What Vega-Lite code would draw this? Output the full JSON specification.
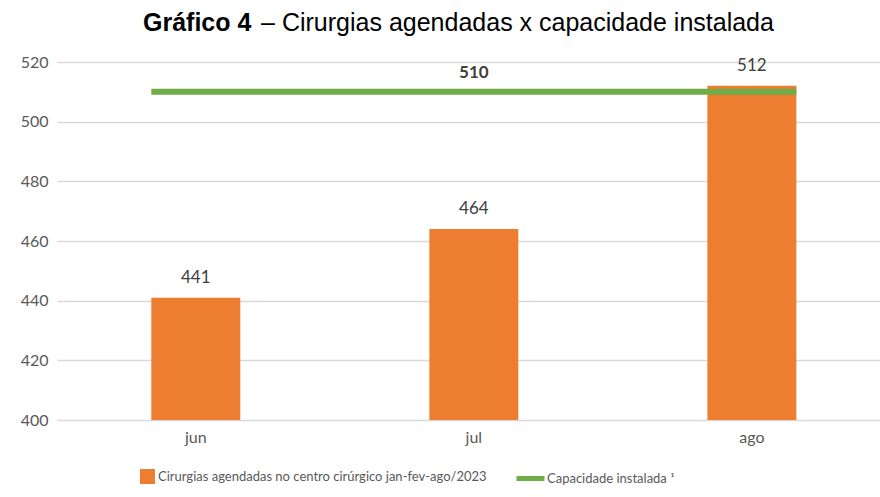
{
  "$schema": "https://vega.github.io/schema/vega-lite/v6.json",
  "width": 823,
  "height": 358,
  "autosize": {"type": "none"},
  "padding": {"left": 57, "top": 62, "right": 0, "bottom": 77},
  "background": "white",
  "config": {
    "view": {"stroke": null},
    "font": "Lato",
    "axis": {"labelFont": "Lato", "labelColor": "#595959", "labelFontSize": 16}
  },
  "title": {
    "text": "Gráfico 4",
    "subtitle": "\u200b\u00a0\u00a0\u00a0\u00a0\u00a0\u00a0\u00a0\u00a0\u00a0\u00a0\u00a0\u00a0\u00a0\u00a0\u00a0\u00a0\u00a0– Cirurgias agendadas x capacidade instalada",
    "anchor": "start",
    "frame": "group",
    "align": "left",
    "dx": 86,
    "offset": 18,
    "font": "Liberation Sans",
    "fontSize": 25,
    "fontWeight": "bold",
    "color": "#000000",
    "subtitleFont": "Liberation Sans",
    "subtitleFontSize": 25,
    "subtitleFontWeight": "normal",
    "subtitleColor": "#000000",
    "subtitlePadding": -25
  },
  "datasets": {
    "cirurgias": [
      {"mes": "jun", "valor": 441, "serie": "Cirurgias agendadas no centro cirúrgico jan-fev-ago/2023"},
      {"mes": "jul", "valor": 464, "serie": "Cirurgias agendadas no centro cirúrgico jan-fev-ago/2023"},
      {"mes": "ago", "valor": 512, "serie": "Cirurgias agendadas no centro cirúrgico jan-fev-ago/2023"}
    ],
    "capacidade": [
      {"de": "jun", "ate": "ago", "valor": 510, "serie": "Capacidade instalada ¹"}
    ]
  },
  "encoding": {
    "x": {
      "field": "mes",
      "type": "ordinal",
      "scale": {"domain": ["jun", "jul", "ago"], "paddingInner": 0.68, "paddingOuter": 0.32, "align": 0.53},
      "axis": {"title": null, "labelAngle": 0, "domain": false, "ticks": false, "labelPadding": 9}
    },
    "y": {
      "field": "valor",
      "type": "quantitative",
      "scale": {"domain": [400, 520], "zero": false, "nice": false},
      "axis": {"title": null, "values": [400, 420, 440, 460, 480, 500, 520], "domain": false, "ticks": false, "grid": true, "gridColor": "#D9D9D9", "gridWidth": 1.3, "labelPadding": 9}
    }
  },
  "layer": [
    {
      "data": {"name": "cirurgias"},
      "mark": {"type": "bar", "color": "#ED7D31", "clip": true},
      "encoding": {
        "fill": {
          "field": "serie",
          "type": "nominal",
          "scale": {"range": ["#ED7D31"]},
          "legend": {
            "title": null,
            "orient": "none",
            "legendX": 83,
            "legendY": 407,
            "symbolType": "square",
            "symbolSize": 225,
            "symbolStrokeWidth": 0,
            "labelFont": "Lato",
            "labelFontSize": 13,
            "labelColor": "#595959",
            "labelOffset": 3,
            "labelLimit": 500,
            "padding": 0
          }
        }
      }
    },
    {
      "data": {"name": "cirurgias"},
      "mark": {"type": "text", "baseline": "alphabetic", "dy": -15, "font": "Lato", "fontSize": 17, "color": "#404040"},
      "encoding": {"text": {"field": "valor", "type": "quantitative"}}
    },
    {
      "data": {"name": "capacidade"},
      "mark": {"type": "rule", "strokeWidth": 6},
      "encoding": {
        "x": {"field": "de", "type": "ordinal", "bandPosition": 0},
        "x2": {"field": "ate", "bandPosition": 1},
        "y": {"field": "valor", "type": "quantitative"},
        "stroke": {
          "field": "serie",
          "type": "nominal",
          "scale": {"range": ["#70AD47"]},
          "legend": {
            "title": null,
            "orient": "none",
            "legendX": 457,
            "legendY": 400,
            "symbolType": "stroke",
            "symbolSize": 784,
            "symbolStrokeWidth": 5,
            "labelFont": "Lato",
            "labelFontSize": 13,
            "labelColor": "#595959",
            "labelOffset": 0,
            "labelLimit": 500,
            "padding": 0
          }
        }
      }
    },
    {
      "data": {"name": "capacidade"},
      "mark": {"type": "text", "baseline": "alphabetic", "dy": -14, "font": "Lato", "fontSize": 17, "fontWeight": "bold", "color": "#404040"},
      "encoding": {
        "x": {"datum": "jul", "type": "ordinal"},
        "text": {"field": "valor", "type": "quantitative"}
      }
    }
  ]
}
